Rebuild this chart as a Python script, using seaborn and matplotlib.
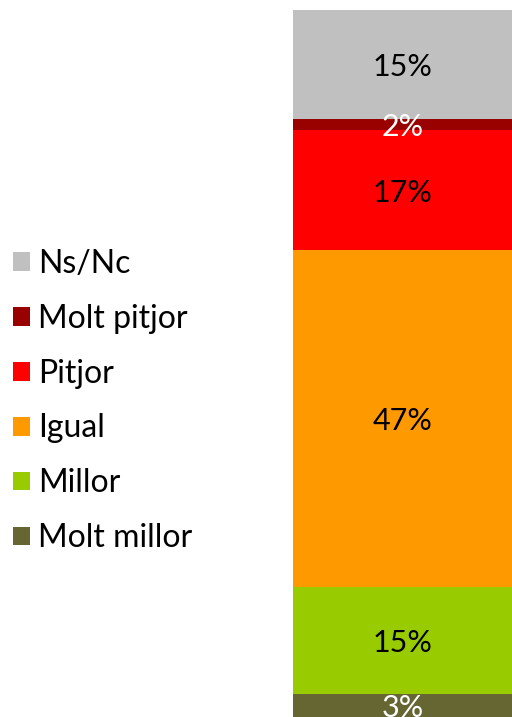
import matplotlib
matplotlib.use("Agg")
import matplotlib.pyplot as plt
from matplotlib.patches import Patch
import seaborn as sns
import pandas as pd

# Data (bottom to top)
categories = ["Molt millor", "Millor", "Igual", "Pitjor", "Molt pitjor", "Ns/Nc"]
values = [3.3, 15.1, 47.6, 17.0, 1.6, 15.4]
labels = ["3%", "15%", "47%", "17%", "2%", "15%"]
colors = ["#666633", "#99CC00", "#FF9900", "#FF0000", "#990000", "#C0C0C0"]
label_colors = ["white", "black", "black", "black", "white", "black"]

sns.set_theme(style="white")
plt.rcParams["font.family"] = ["Lato", "DejaVu Sans"]

fig = plt.figure(figsize=(5.12, 7.17), dpi=100)
ax = fig.add_axes([293 / 512, 0, 219 / 512, 707 / 717])

df = pd.DataFrame({"grp": ["A"] * len(values), "cat": categories, "val": values})
bottom = 0.0
for i, row in df.iterrows():
    sns.barplot(x=[row["grp"]], y=[row["val"]], bottom=bottom, color=colors[i],
                width=1.0, saturation=1, ax=ax, linewidth=0)
    ax.text(0, bottom + row["val"] / 2, labels[i], ha="center", va="center_baseline",
            fontsize=22, color=label_colors[i])
    bottom += row["val"]

ax.set_xlim(-0.5, 0.5)
ax.set_ylim(0, bottom)
ax.axis("off")

handles = [Patch(facecolor=colors[i], edgecolor="none", label=categories[i])
           for i in range(len(categories) - 1, -1, -1)]
fig.legend(handles=handles, loc="center left", bbox_to_anchor=(13 / 512, 1 - 401 / 717),
           frameon=False, fontsize=23, handlelength=0.53, handleheight=0.53,
           handletextpad=0.25, labelspacing=0.78, borderaxespad=0, borderpad=0,
           labelcolor="black")

fig.savefig("out.png", dpi=100)
